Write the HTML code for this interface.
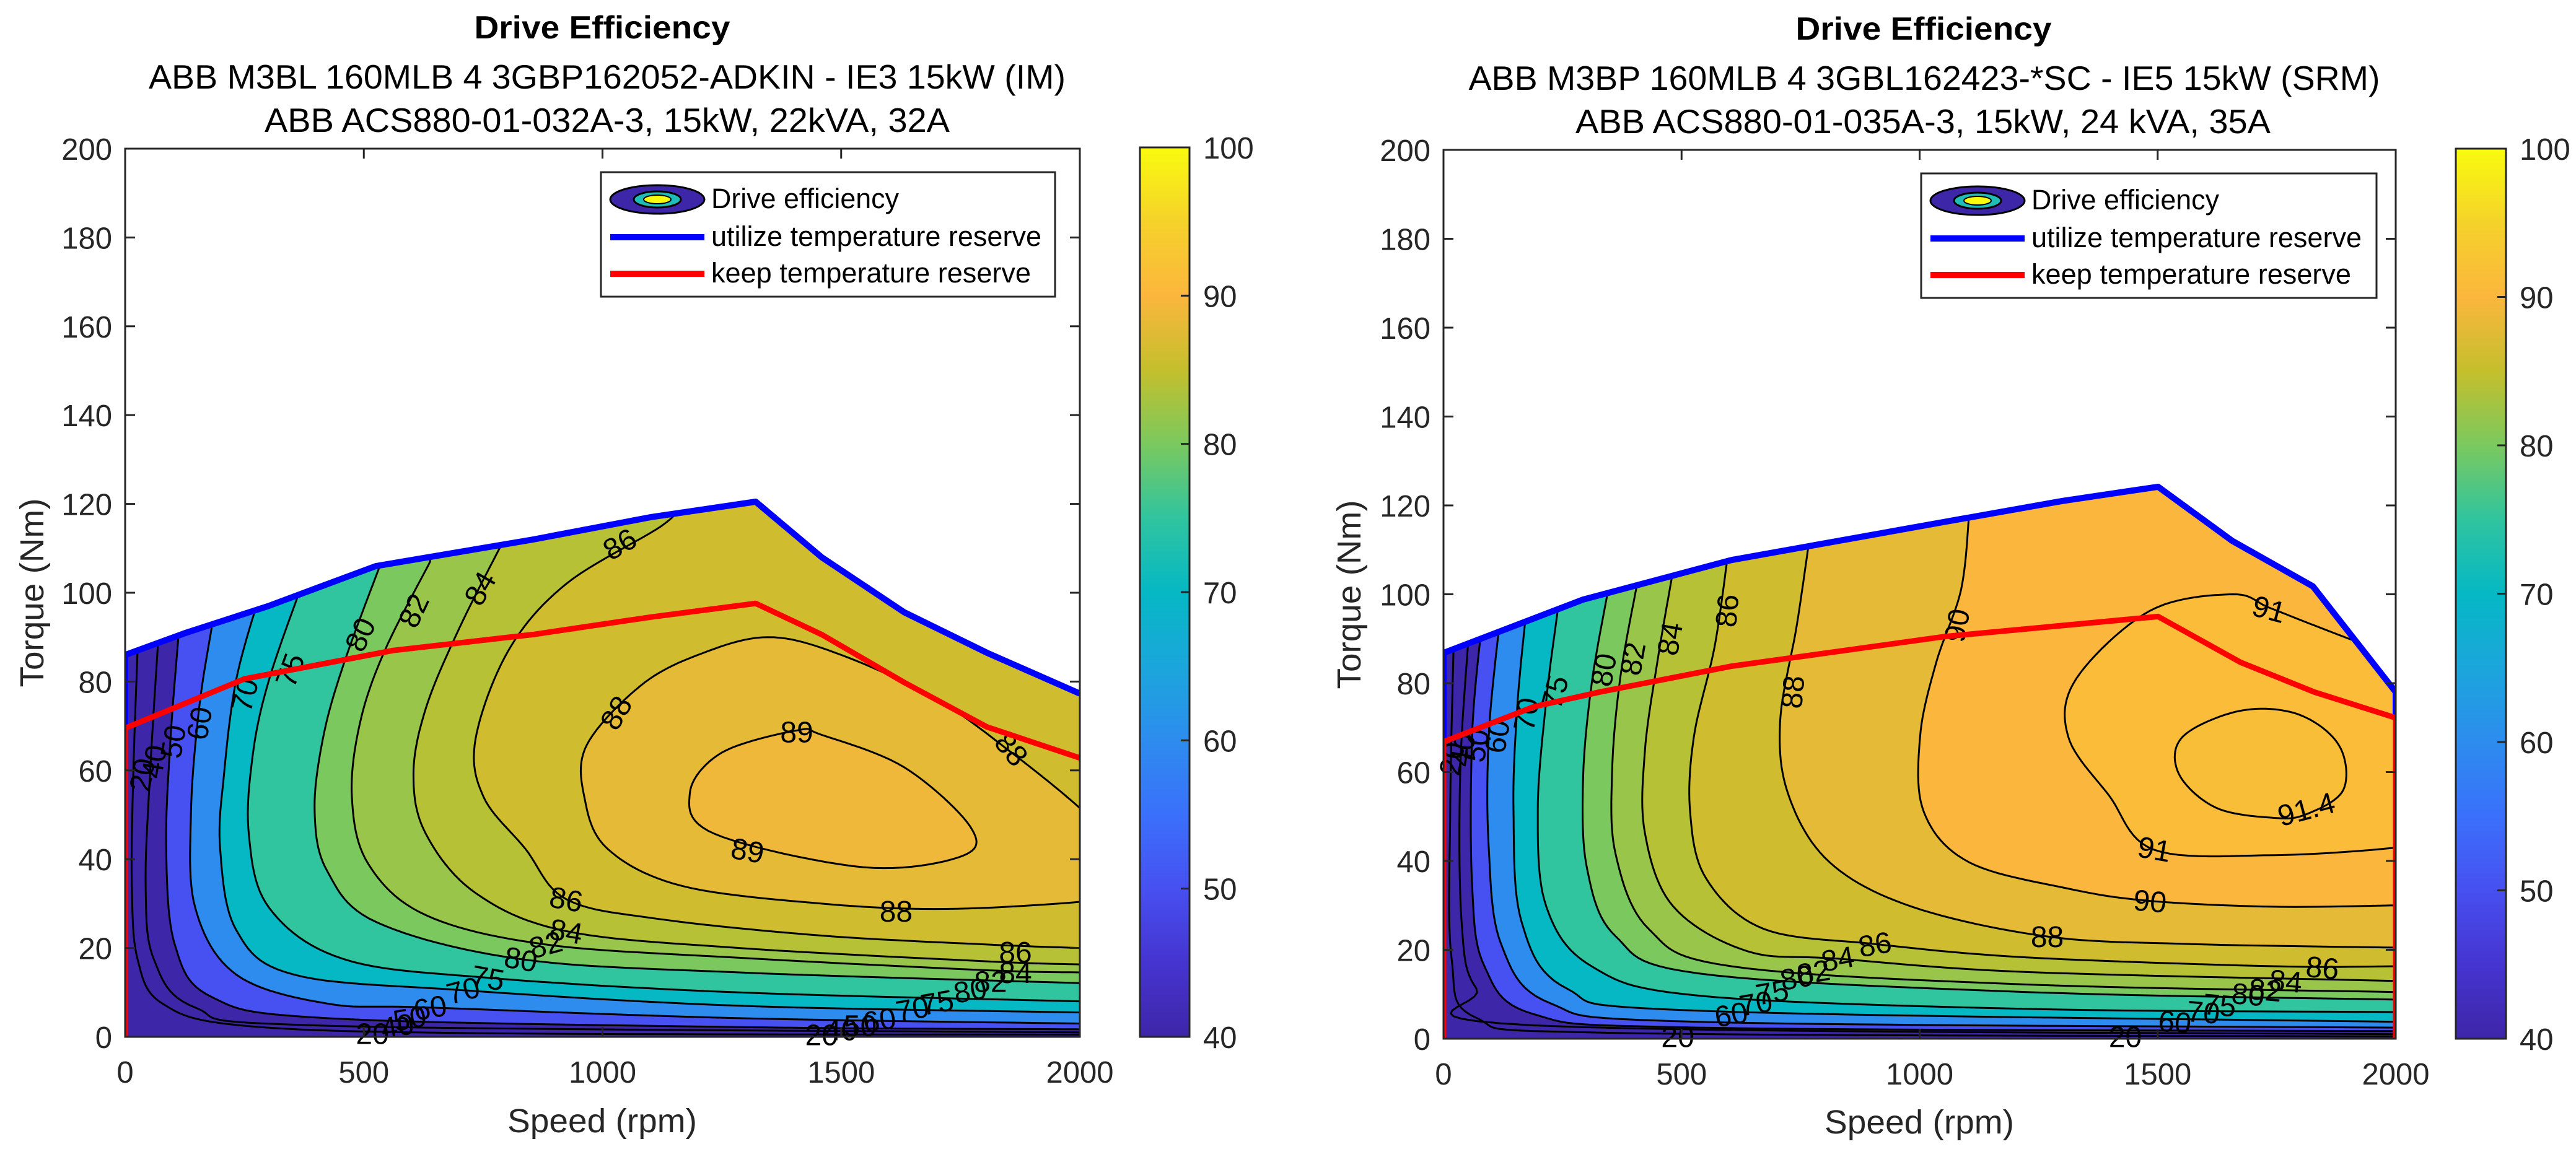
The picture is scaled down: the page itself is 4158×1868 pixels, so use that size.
<!DOCTYPE html>
<html><head><meta charset="utf-8">
<style>
html,body{margin:0;padding:0;background:#fff;}
svg{display:block;font-family:"Liberation Sans",Arial,sans-serif;}
</style></head>
<body>
<svg id="fig" xmlns="http://www.w3.org/2000/svg" width="4158" height="1868" viewBox="0 0 4158 1868">
<rect x="0" y="0" width="4158" height="1868" fill="#fff"/>
<defs>
<linearGradient id="parulaGrad" x1="0" y1="1" x2="0" y2="0">
<stop offset="0" stop-color="#3e26a8"/><stop offset="0.083" stop-color="#4534d0"/><stop offset="0.167" stop-color="#4750f0"/>
<stop offset="0.25" stop-color="#3a70fb"/><stop offset="0.333" stop-color="#2d8cee"/><stop offset="0.417" stop-color="#1ba6db"/>
<stop offset="0.5" stop-color="#05b8c4"/><stop offset="0.583" stop-color="#30c49f"/><stop offset="0.667" stop-color="#7bc95e"/>
<stop offset="0.75" stop-color="#c5bf2c"/><stop offset="0.833" stop-color="#fbb63d"/><stop offset="0.917" stop-color="#f5d22a"/>
<stop offset="1" stop-color="#f9fb0e"/>
</linearGradient>
</defs>

<g fill="#000">
<text x="972" y="62" font-size="52" font-weight="bold" text-anchor="middle" textLength="413" lengthAdjust="spacingAndGlyphs">Drive Efficiency</text>
<text x="980" y="143" font-size="55" text-anchor="middle" textLength="1480" lengthAdjust="spacingAndGlyphs">ABB M3BL 160MLB 4 3GBP162052-ADKIN - IE3 15kW (IM)</text>
<text x="980" y="213" font-size="55" text-anchor="middle" textLength="1106" lengthAdjust="spacingAndGlyphs">ABB ACS880-01-032A-3, 15kW, 22kVA, 32A</text>
</g>
<text x="972" y="1828" font-size="54" fill="#262626" text-anchor="middle" textLength="306" lengthAdjust="spacingAndGlyphs">Speed (rpm)</text>
<text x="0" y="0" transform="translate(70,957) rotate(-90)" font-size="54" fill="#262626" text-anchor="middle" textLength="305" lengthAdjust="spacingAndGlyphs">Torque (Nm)</text>

<g fill="#000">
<text x="3105" y="64" font-size="52" font-weight="bold" text-anchor="middle" textLength="413" lengthAdjust="spacingAndGlyphs">Drive Efficiency</text>
<text x="3106" y="145" font-size="55" text-anchor="middle" textLength="1471" lengthAdjust="spacingAndGlyphs">ABB M3BP 160MLB 4 3GBL162423-*SC - IE5 15kW (SRM)</text>
<text x="3104" y="215" font-size="55" text-anchor="middle" textLength="1122" lengthAdjust="spacingAndGlyphs">ABB ACS880-01-035A-3, 15kW, 24 kVA, 35A</text>
</g>
<text x="3098" y="1830" font-size="54" fill="#262626" text-anchor="middle" textLength="306" lengthAdjust="spacingAndGlyphs">Speed (rpm)</text>
<text x="0" y="0" transform="translate(2196,960) rotate(-90)" font-size="54" fill="#262626" text-anchor="middle" textLength="305" lengthAdjust="spacingAndGlyphs">Torque (Nm)</text>

<g id="plots"></g>

<g>
<rect x="970" y="278" width="733" height="201" fill="#fff" stroke="#262626" stroke-width="3"/>
<g>
<ellipse cx="1061" cy="322" rx="76" ry="23" fill="#3e26a8" stroke="#000" stroke-width="3"/>
<ellipse cx="1061" cy="322" rx="38" ry="13" fill="#1fbcb8" stroke="#000" stroke-width="3"/>
<ellipse cx="1061" cy="322" rx="22" ry="7" fill="#f9fb0e" stroke="#000" stroke-width="2"/>
<text x="1148" y="336" font-size="45" fill="#000" textLength="303" lengthAdjust="spacingAndGlyphs">Drive efficiency</text>
</g>
<g>
<line x1="985" y1="383" x2="1137" y2="383" stroke="#0000ff" stroke-width="10"/>
<text x="1148" y="397" font-size="45" fill="#000" textLength="533" lengthAdjust="spacingAndGlyphs">utilize temperature reserve</text>
</g>
<g>
<line x1="985" y1="442" x2="1137" y2="442" stroke="#ff0000" stroke-width="10"/>
<text x="1148" y="456" font-size="45" fill="#000" textLength="516" lengthAdjust="spacingAndGlyphs">keep temperature reserve</text>
</g>
</g>
<g>
<rect x="3101" y="280" width="735" height="201" fill="#fff" stroke="#262626" stroke-width="3"/>
<g>
<ellipse cx="3192" cy="324" rx="76" ry="23" fill="#3e26a8" stroke="#000" stroke-width="3"/>
<ellipse cx="3192" cy="324" rx="38" ry="13" fill="#1fbcb8" stroke="#000" stroke-width="3"/>
<ellipse cx="3192" cy="324" rx="22" ry="7" fill="#f9fb0e" stroke="#000" stroke-width="2"/>
<text x="3279" y="338" font-size="45" fill="#000" textLength="303" lengthAdjust="spacingAndGlyphs">Drive efficiency</text>
</g>
<g>
<line x1="3116" y1="385" x2="3268" y2="385" stroke="#0000ff" stroke-width="10"/>
<text x="3279" y="399" font-size="45" fill="#000" textLength="533" lengthAdjust="spacingAndGlyphs">utilize temperature reserve</text>
</g>
<g>
<line x1="3116" y1="444" x2="3268" y2="444" stroke="#ff0000" stroke-width="10"/>
<text x="3279" y="458" font-size="45" fill="#000" textLength="516" lengthAdjust="spacingAndGlyphs">keep temperature reserve</text>
</g>
</g>
</svg>

<script>
const xTicks = [0, 500, 1000, 1500, 2000];
const yTicks = [0, 20, 40, 60, 80, 100, 120, 140, 160, 180, 200];
const cbTicks = [40, 50, 60, 70, 80, 90, 100];

const imLevels = [20, 40, 50, 60, 70, 75, 80, 82, 84, 86, 88, 89];
const imClosed = [false, false, false, false, false, false, false, false, false, false, true, true];
const imContours = [
  [[26,87],[17,59],[14,34],[26,17.5],[78,7.5],[250,2.5],[768,0.8],[2000,0.5]],
  [[69,89],[52,59],[43,34],[60,17.5],[147,6.6],[423,2.5],[2000,1]],
  [[112,90.6],[95,67],[86,42.4],[104,20.8],[181,9],[423,4.2],[1287,2.2],[2000,1.7]],
  [[181,92],[155,74],[138,50.7],[147,29],[233,14],[423,7.5],[639,6.6],[1287,4.2],[2000,3]],
  [[285,100.6],[233,80.6],[207,59],[199,42.4],[233,24],[354,14],[708,10.5],[1287,7],[2000,5.5]],
  [[371,102],[302,80.6],[268,64],[259,45.7],[302,29],[458,17.5],[760,13.3],[1287,10],[2000,8]],
  [[544,109],[458,84],[414,67],[397,50.7],[423,37.4],[527,25.8],[829,17.5],[1287,14.5],[2000,12.1]],
  [[639,107],[544,87],[492,70.7],[475,54],[509,39],[630,27.4],[881,20.8],[1287,17.8],[1805,15],[2000,14.5]],
  [[789,111],[700,92],[630,74],[604,59],[630,45.7],[734,32.4],[924,23.8],[1287,20],[1805,17],[2000,16.3]],
  [[1166,120],[1123,115],[924,102],[803,87],[734,67],[751,54],[838,42.4],[924,31],[1114,26.6],[1459,22.8],[1805,20.8],[2000,20]],
  [[2050,45],[2000,51.5],[1857,64],[1700,76],[1500,86],[1347,90],[1200,86],[1079,79],[967,65.7],[962,54],[1010,42.4],[1166,34],[1459,30],[1718,28.8],[2000,30.4],[2050,32]],
  [[1407,69],[1459,68],[1632,60.7],[1770,47.4],[1753,40.7],[1546,38.2],[1235,45.7],[1183,54.9],[1250,64]]
];
const imBlue = [[0,69.5],[0,86],[128,91],[300,97],[525,106],[855,112],[1100,117],[1321,120.5],[1459,108],[1632,95.6],[1805,86.5],[2000,77.3]];
const imRed = [[0,0],[0,69.5],[250,80.6],[561,87],[855,90.6],[1100,94.5],[1321,97.6],[1459,90.6],[1632,79.8],[1805,69.8],[2000,62.8]];
const imLabelText = ["20","40","50","60","70","75","80","82","84","86","88","89","89","88","86","84","82","80","75","70","60","50","40","20","88","86","84","82","80","75","70","60","50","40","20"];
const imLabelPos = [[35,59],[60,62],[100,66.5],[155,70.6],[250,77],[345,82.6],[492,90.6],[604,96],[743,101],[1036,111],[1028,73],[1407,68.7],[1304,42],[1857,64.8],[924,31],[924,23.8],[881,20.8],[829,17.5],[760,13.3],[708,10.5],[639,6.6],[596,4.2],[570,2.5],[518,0.8],[1615,28.3],[1865,19.1],[1865,14.5],[1813,12.5],[1770,10.5],[1701,7.8],[1649,6.3],[1580,3.8],[1540,2.6],[1500,1.6],[1459,0.5]];
const imLabelAngle = [-80,-80,-80,-80,-75,-70,-65,-65,-60,-30,-60,0,10,50,10,10,-15,10,10,-15,-10,-10,-10,0,0,0,0,0,-10,-10,-10,-10,0,0,0];

const srmLevels = [20, 40, 50, 60, 70, 75, 80, 82, 84, 86, 88, 90, 91, 91.4];
const srmClosed = [false, false, false, false, false, false, false, false, false, false, false, false, true, true];
const srmContours = [
  [[21,88],[14,51],[17,18],[69,4.7],[362,1.3],[2000,0.5]],
  [[52,89.7],[35,59.7],[38,26.3],[69,11.3],[190,3],[2000,1]],
  [[78,91],[60,68],[60,34.7],[86,16.3],[190,5.5],[535,2.5],[2000,1.7]],
  [[117,93],[95,68],[95,43],[121,21.3],[224,8],[535,3.8],[2000,2.5]],
  [[173,95.5],[155,74.7],[147,51.3],[164,26.3],[259,11.3],[535,6.3],[2000,3.8]],
  [[242,98],[216,76.3],[198,51.3],[216,29.7],[311,16.3],[535,9.7],[1225,6.7],[2000,6]],
  [[345,100.5],[311,79.7],[293,58],[302,38],[362,23],[535,14.7],[1225,10.5],[2000,8.8]],
  [[406,102],[371,81],[354,59.7],[362,41.3],[431,24.7],[604,16.3],[1225,12.2],[2000,10.5]],
  [[480,104],[449,84.7],[423,64.7],[423,46.3],[483,29.7],[638,19.7],[828,18],[1225,15],[2000,13]],
  [[595,107],[569,88],[526,68],[518,51],[552,36],[673,24.7],[906,21.3],[1225,18.3],[1743,16.3],[2000,16.3]],
  [[768,112],[742,93],[707,71.3],[725,54.7],[811,39.7],[984,29.7],[1268,23],[1570,21.3],[2000,20.5]],
  [[1104,118],[1087,101],[1035,84.7],[1001,68],[1009,51],[1104,39.7],[1311,33.8],[1484,31],[1743,29.7],[2000,30]],
  [[1484,96.3],[1657,100],[1734,97],[1829,93],[2000,86],[2060,84],[2060,45],[2000,43],[1743,41.3],[1493,42.5],[1398,54.7],[1312,68],[1329,81]],
  [[1674,73.8],[1795,73],[1881,66],[1890,56],[1812,50.5],[1743,49.7],[1622,52],[1544,59.7],[1553,68]]
];
const srmBlue = [[0,66.8],[0,86.8],[293,98.8],[604,107.7],[1053,116.3],[1300,121],[1501,124.2],[1657,112],[1826,101.8],[2000,78],[2000,72.2]];
const srmRed = [[0,0],[0,66.8],[190,74.7],[328,78],[604,83.8],[1053,90.5],[1501,95],[1674,84.7],[1829,78],[2000,72.2],[2000,0]];
const srmLabelText = ["20","40","50","60","70","75","80","82","84","86","88","90","91","91.4","91","90","88","86","84","82","80","75","70","60","20","86","84","82","80","75","70","60","20"];
const srmLabelPos = [[17,63],[40,65],[69,66],[112,68],[173,73],[233,78],[336,83],[397,85.5],[475,90],[595,96.3],[733,78],[1078,93],[1734,96.7],[1812,51.7],[1493,42.7],[1484,31],[1268,23],[906,21.3],[828,18],[777,15],[742,13.8],[690,10.5],[656,8],[604,5.5],[492,0.5],[1846,16],[1769,13],[1726,11],[1690,10],[1630,7.6],[1596,6],[1536,3.8],[1432,0.5]];
const srmLabelAngle = [-80,-80,-80,-80,-80,-75,-80,-80,-80,-85,-85,-80,15,-15,10,5,0,-10,-10,-10,-10,-10,-10,-10,0,5,5,5,5,5,5,5,0];

const parulaVals = [40,45,50,55,60,65,70,75,80,85,90,95,100];
const parulaHex = ["#3e26a8","#4534d0","#4750f0","#3a70fb","#2d8cee","#1ba6db","#05b8c4","#30c49f","#7bc95e","#c5bf2c","#fbb63d","#f5d22a","#f9fb0e"];
function hexRgb(h){return [parseInt(h.substr(1,2),16),parseInt(h.substr(3,2),16),parseInt(h.substr(5,2),16)];}
function parula(v){
  v=Math.max(40,Math.min(100,v));
  for(let i=0;i<parulaVals.length-1;i++){
    if(v<=parulaVals[i+1]){
      const f=(v-parulaVals[i])/(parulaVals[i+1]-parulaVals[i]);
      const a=hexRgb(parulaHex[i]),b=hexRgb(parulaHex[i+1]);
      return 'rgb('+a.map((c,k)=>Math.round(c+(b[k]-c)*f)).join(',')+')';
    }
  }
  return parulaHex[parulaHex.length-1];
}

const NS='http://www.w3.org/2000/svg';
function mk(tag, attrs, parent){
  const e=document.createElementNS(NS,tag);
  for(const k in attrs) e.setAttribute(k,attrs[k]);
  if(parent) parent.appendChild(e);
  return e;
}

function drawChart(id, g, L, levels, contours, closed, blue, red, labText, labPos, labAng){
  const sx=s=>L.x0+s/2000*(L.x1-L.x0);
  const sy=t=>L.y1-t/200*(L.y1-L.y0);
  const toPx=pts=>pts.map(p=>[sx(p[0]),sy(p[1])]);
  const pstrPx=pts=>pts.map((p,i)=>(i?'L':'M')+p[0].toFixed(1)+','+p[1].toFixed(1)).join(' ');
  const pstr=pts=>pstrPx(toPx(pts));
  // Catmull-Rom smoothing in pixel space
  function smooth(px, isClosed){
    const n=px.length, out=[], seg=12;
    const get=i=> isClosed ? px[(i+n)%n] : px[Math.max(0,Math.min(n-1,i))];
    const last=isClosed?n:n-1;
    for(let i=0;i<last;i++){
      const p0=get(i-1),p1=get(i),p2=get(i+1),p3=get(i+2);
      for(let k=0;k<seg;k++){
        const t=k/seg,t2=t*t,t3=t2*t;
        out.push([0,1].map(j=>0.5*((2*p1[j])+(-p0[j]+p2[j])*t+(2*p0[j]-5*p1[j]+4*p2[j]-p3[j])*t2+(-p0[j]+3*p1[j]-3*p2[j]+p3[j])*t3)));
      }
    }
    if(!isClosed) out.push(px[n-1]);
    return out;
  }

  const defs=mk('defs',{},g);
  const cp=mk('clipPath',{id:id+'-env'},defs);
  const env=[[0,0]].concat(blue).concat([[2000,0]]);
  mk('path',{d:pstr(env)+' Z'},cp);
  const cpAx=mk('clipPath',{id:id+'-ax'},defs);
  mk('rect',{x:L.x0,y:L.y0,width:L.x1-L.x0,height:L.y1-L.y0},cpAx);

  const bg=mk('rect',{x:L.x0,y:L.y0,width:L.x1-L.x0,height:L.y1-L.y0,fill:'#fff'},g);
  
  

  const fillG=mk('g',{'clip-path':'url(#'+id+'-env)'},g);
  
  
  const base=mk('path',{d:pstr(env)+' Z',fill:parula(40)},fillG);
  
  

  const polys=[], lines=[];
  contours.forEach((pts,i)=>{
    const sm=smooth(toPx(pts), closed[i]);
    let poly, line;
    if(closed[i]){ line=sm; poly=sm; }
    else{
      const f=sm[0], l=sm[sm.length-1];
      line=[[f[0],sy(260)]].concat(sm).concat([[sx(2100),l[1]]]);
      poly=line.concat([[sx(2100),sy(260)]]);
    }
    polys.push(poly); lines.push(line);
  });
  levels.forEach((lv,i)=>{
    const band=mk('path',{d:pstrPx(polys[i])+' Z',fill:parula(lv)},fillG);
    
    
  });
  const lineG=mk('g',{'clip-path':'url(#'+id+'-env)',fill:'none',stroke:'#000','stroke-width':3},g);
  
  
  levels.forEach((lv,i)=>{
    const ln=mk('path',{d:pstrPx(lines[i])+(closed[i]?' Z':'')},lineG);
    
    
  });
  const labG=mk('g',{'font-size':48,fill:'#000','text-anchor':'middle'},g);
  
  
  labText.forEach((t,i)=>{
    const x=sx(labPos[i][0]), y=sy(labPos[i][1]);
    const tx=mk('text',{x:0,y:17,transform:'translate('+x.toFixed(1)+','+y.toFixed(1)+') rotate('+labAng[i]+')'},labG);
    tx.textContent=t;
    
    
  });

  const bl=mk('path',{d:pstr(blue),fill:'none',stroke:'#0000ff','stroke-width':10,'stroke-linejoin':'round','clip-path':'url(#'+id+'-ax)'},g);
  
  
  const rl=mk('path',{d:pstr(red),fill:'none',stroke:'#ff0000','stroke-width':9,'stroke-linejoin':'round','clip-path':'url(#'+id+'-ax)'},g);
  
  

  const ax=mk('g',{stroke:'#262626','stroke-width':3,fill:'none'},g);
  
  
  mk('rect',{x:L.x0,y:L.y0,width:L.x1-L.x0,height:L.y1-L.y0},ax);
  xTicks.forEach(v=>{
    const x=sx(v);
    mk('line',{x1:x,y1:L.y1,x2:x,y2:L.y1-16},ax);
    mk('line',{x1:x,y1:L.y0,x2:x,y2:L.y0+16},ax);
    const t=mk('text',{x:x,y:L.y1+74,'font-size':49,fill:'#262626','text-anchor':'middle'},g);
    t.textContent=v;
    
    
  });
  yTicks.forEach(v=>{
    const y=sy(v);
    mk('line',{x1:L.x0,y1:y,x2:L.x0+16,y2:y},ax);
    mk('line',{x1:L.x1,y1:y,x2:L.x1-16,y2:y},ax);
    const t=mk('text',{x:L.x0-21,y:y+18,'font-size':49,fill:'#262626','text-anchor':'end'},g);
    t.textContent=v;
    
    
  });

  const cb=mk('rect',{x:L.cb0,y:L.y0-2,width:L.cb1-L.cb0,height:L.y1-L.y0+2,fill:'url(#parulaGrad)',stroke:'#262626','stroke-width':3},g);
  
  
  const cy=v=>L.y1-(v-40)/60*(L.y1-L.y0+2);
  cbTicks.forEach(v=>{
    const y=cy(v);
    if(v>40&&v<100) mk('line',{x1:L.cb1,y1:y,x2:L.cb1-14,y2:y,stroke:'#262626','stroke-width':3},g);
    const t=mk('text',{x:L.cb1+22,y:y+18,'font-size':49,fill:'#262626'},g);
    t.textContent=v;
    
    
  });
}

const plots=document.getElementById('plots');
const gL=mk('g',{},plots);


drawChart('im', gL, {x0:202,x1:1743,y0:240,y1:1674,cb0:1840,cb1:1920}, imLevels, imContours, imClosed, imBlue, imRed, imLabelText, imLabelPos, imLabelAngle);
const gR=mk('g',{},plots);


drawChart('srm', gR, {x0:2330,x1:3867,y0:242,y1:1677,cb0:3964,cb1:4045}, srmLevels, srmContours, srmClosed, srmBlue, srmRed, srmLabelText, srmLabelPos, srmLabelAngle);
</script>
</body></html>
